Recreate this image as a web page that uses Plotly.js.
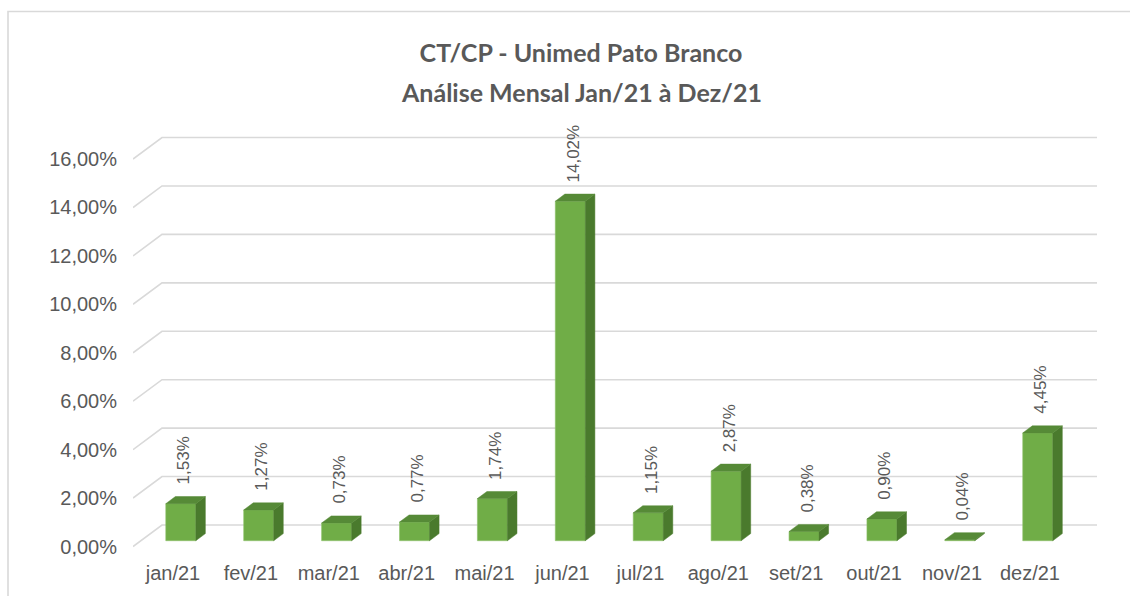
<!DOCTYPE html>
<html>
<head>
<meta charset="utf-8">
<script src="https://cdn.plot.ly/plotly-3.0.1.min.js"></script>
<style>html,body{margin:0;padding:0;background:#fff;}#chart{width:1130px;height:596px;}</style>
</head>
<body>
<div id="chart"></div>
<script>
const months = ['jan/21','fev/21','mar/21','abr/21','mai/21','jun/21','jul/21','ago/21','set/21','out/21','nov/21','dez/21'];
const values = [1.53, 1.27, 0.73, 0.77, 1.74, 14.02, 1.15, 2.87, 0.38, 0.90, 0.04, 4.45];
const yTickVals = [0, 2, 4, 6, 8, 10, 12, 14, 16];
const yTickText = ['0,00%','2,00%','4,00%','6,00%','8,00%','10,00%','12,00%','14,00%','16,00%'];
const titleLine1 = 'CT/CP - Unimed Pato Branco';
const titleLine2 = 'Análise Mensal Jan/21 à Dez/21';

// layout geometry
const W = 1130, H = 596;
const mL = 133, mR = 33, mT = 130.4, mB = 41;
const xRange = [-0.513, 11.861];
const yRange = [-0.35, 17.2];
const plotW = W - mL - mR, plotH = H - mT - mB;
const DX = 0.372, DY = 0.889;      // depth of the 3D floor in axis units
const D0 = 0.27, D1 = 0.33;        // bar front depth fraction and bar depth fraction
const BW = 0.385;                  // bar front width
const txtColor = '#595959';
const gridColor = '#D9D9D9';

const idx = months.map((m, i) => i);
const fx = idx.map(i => i + D0 * DX);
const baseY = D0 * DY;

// side and top faces
const sideX = [], sideY = [], topX = [], topY = [];
values.forEach((v, i) => {
  const xl = fx[i] - BW / 2, xr = fx[i] + BW / 2;
  const yb = baseY, yt = baseY + v;
  const ddx = D1 * DX, ddy = D1 * DY;
  sideX.push(xr, xr + ddx, xr + ddx, xr, xr, null);
  sideY.push(yb, yb + ddy, yt + ddy, yt, yb, null);
  topX.push(xl, xl + ddx, xr + ddx, xr, xl, null);
  topY.push(yt, yt + ddy, yt + ddy, yt, yt, null);
});

const traces = [
  {
    type: 'bar', x: fx, y: values, base: values.map(() => baseY), width: BW,
    marker: {color: '#70AD47', line: {color: '#8CC168', width: 0.6}},
    hoverinfo: 'skip', showlegend: false
  },
  {
    type: 'scatter', mode: 'lines', x: sideX, y: sideY, fill: 'toself',
    fillcolor: '#4A7A2D', line: {color: '#4A7A2D', width: 0.5},
    hoverinfo: 'skip', showlegend: false
  },
  {
    type: 'scatter', mode: 'lines', x: topX, y: topY, fill: 'toself',
    fillcolor: '#568A37', line: {color: '#568A37', width: 0.5},
    hoverinfo: 'skip', showlegend: false
  }
];

// back-wall gridlines (with slanted floor part) drawn below the bars
const shapes = yTickVals.map(v => ({
  type: 'path', xref: 'x', yref: 'y', layer: 'below',
  path: `M ${xRange[0]},${v} L ${xRange[0] + DX},${v + DY} L ${xRange[1]},${v + DY}`,
  line: {color: gridColor, width: 1.6}
}));
// outer chart border
shapes.push({
  type: 'rect', xref: 'paper', yref: 'paper', layer: 'below',
  x0: (8 - mL) / plotW, x1: (W + 10 - mL) / plotW,
  y0: (mB - H - 10) / plotH + 0, y1: (H - 12 - mB) / plotH,
  line: {color: gridColor, width: 1.6}
});

const labelText = values.map(v => v.toFixed(2).replace('.', ',') + '%');
const annotations = values.map((v, i) => ({
  xref: 'x', yref: 'y', x: i + 0.14, y: baseY + v + D1 * DY,
  text: labelText[i], textangle: -90, showarrow: false,
  xanchor: 'center', yanchor: 'bottom', yshift: 10,
  font: {family: 'Liberation Sans, Arial, sans-serif', size: 17, color: txtColor}
}));
annotations.push({
  xref: 'paper', yref: 'paper',
  x: (581 - mL) / plotW, y: (H - mB - 92) / plotH,
  text: '<b>' + titleLine2 + '</b>', showarrow: false,
  xanchor: 'center', yanchor: 'middle',
  font: {family: 'Lato, Open Sans, sans-serif', size: 25, color: txtColor}
});

const layout = {
  width: W, height: H,
  margin: {l: mL, r: mR, t: mT, b: mB, pad: 0},
  paper_bgcolor: '#fff', plot_bgcolor: 'rgba(0,0,0,0)',
  title: {
    text: '<b>' + titleLine1 + '</b>',
    x: 581 / W, xanchor: 'center', xref: 'container',
    y: 1 - 53 / H, yanchor: 'middle', yref: 'container',
    font: {family: 'Lato, Open Sans, sans-serif', size: 25, color: txtColor}
  },
  xaxis: {
    range: xRange, tickmode: 'array', tickvals: idx, ticktext: months,
    showgrid: false, zeroline: false, showline: false, ticks: '',
    tickfont: {family: 'Liberation Sans, Arial, sans-serif', size: 20, color: txtColor},
    ticklabelstandoff: 4, fixedrange: true
  },
  yaxis: {
    range: yRange, tickmode: 'array', tickvals: yTickVals, ticktext: yTickText,
    showgrid: false, zeroline: false, showline: false, ticks: '',
    tickfont: {family: 'Liberation Sans, Arial, sans-serif', size: 20, color: txtColor},
    ticklabelstandoff: 15, fixedrange: true
  },
  shapes: shapes,
  annotations: annotations,
  showlegend: false,
  hovermode: false
};

Plotly.newPlot('chart', traces, layout, {displayModeBar: false, staticPlot: true});
</script>
</body>
</html>
